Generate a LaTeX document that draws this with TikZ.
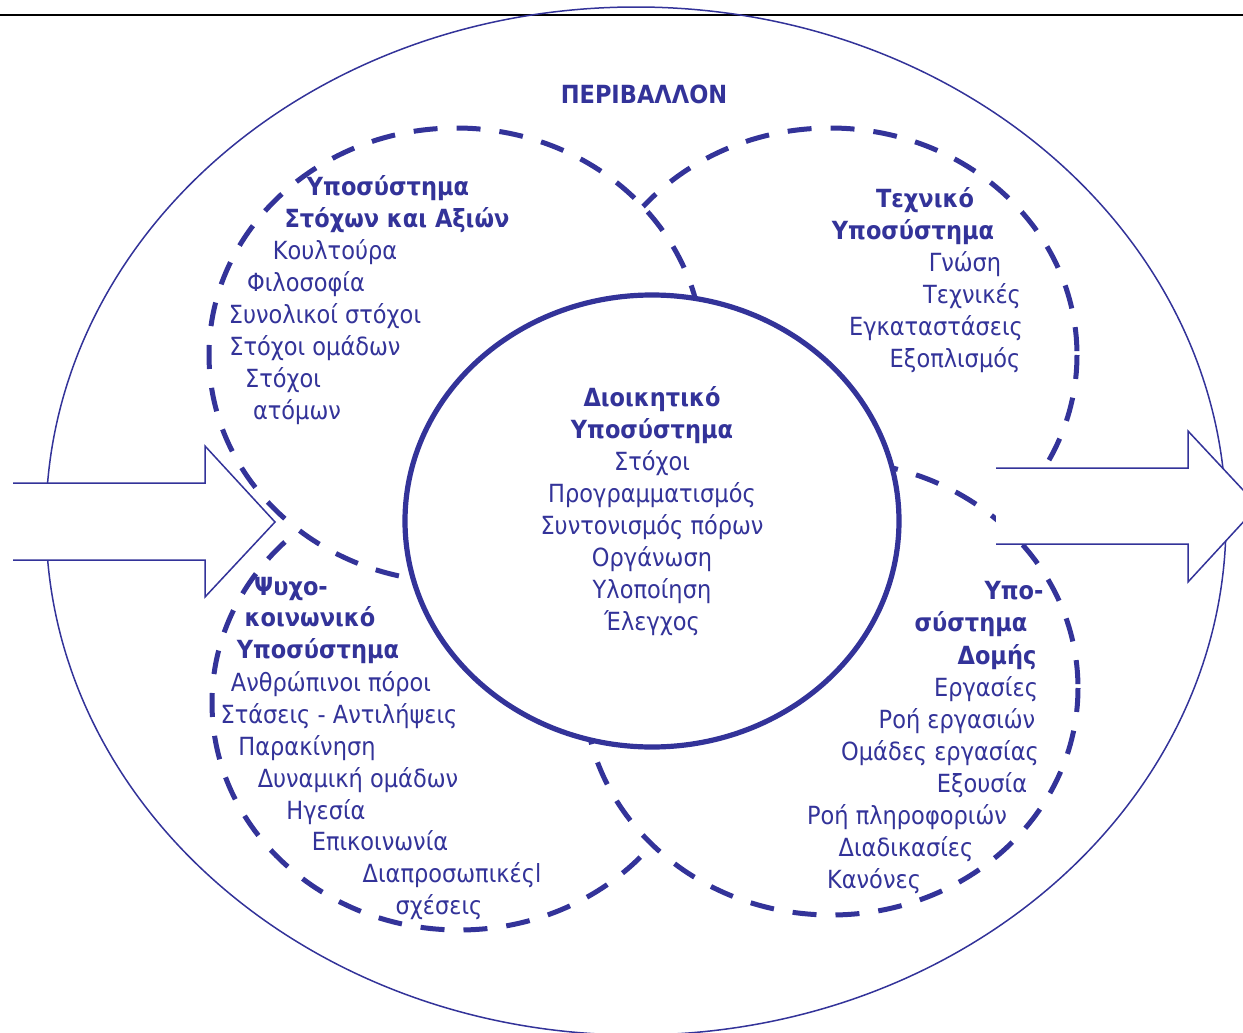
\documentclass[tikz,border=0pt]{standalone}
\usepackage{fontspec}
\setmainfont[FakeStretch=0.9]{DejaVu Sans}
\usetikzlibrary{calc}
\definecolor{navy}{HTML}{333399}
\tikzset{
  subsys/.style={draw=navy, fill=white, line width=2.5pt, dash pattern=on 12pt off 9.5pt},
  core/.style={draw=navy, fill=white, line width=2.6pt},
  flow/.style={draw=navy, line width=0.75pt},
  item/.style={text=navy, inner sep=0pt, anchor=base, font=\fontsize{12.5}{16}\selectfont},
  head/.style={item, font=\fontsize{12.5}{16}\selectfont\bfseries}
}

\begin{document}
\begin{tikzpicture}[x=0.5pt,y=-0.5pt]
% Frame of the page, one unit is one pixel of the scan
\useasboundingbox (0,0) rectangle (1243,1033);
\clip (0,0) rectangle (1243,1033);
% Centres of the five subsystems
\coordinate (tl) at (456,355);
\coordinate (tr) at (830,355);
\coordinate (bl) at (459,703);
\coordinate (br) at (831,688);
\coordinate (mid) at (652,521);
% Rule across the top
\draw[line width=1pt] (0,15) -- (1243,15);
% The environment
\draw[flow] (636,521) ellipse [x radius=590, y radius=514];
% Dashed subsystems, later ones hide the earlier ones
\draw[subsys] (tr) ellipse [x radius=247, y radius=227];
\draw[subsys] (bl) ellipse [x radius=247, y radius=227];
\draw[subsys] (tl) ellipse [x radius=247, y radius=227];
\draw[subsys] (br) ellipse [x radius=247, y radius=227];
% Management subsystem in the middle
\draw[core] (mid) ellipse [x radius=247, y radius=226];
% Input arrow on the left
\fill[white] (13,483) -- (205,483) -- (205,446) -- (275,522) -- (205,597) -- (205,560) -- (13,560) -- cycle;
\draw[flow] (13,483) -- (205,483) -- (205,446) -- (275,522) -- (205,597) -- (205,560) -- (13,560);
% Output arrow on the right
\fill[white] (996,468) -- (1188,468) -- (1188,431) -- (1258,506) -- (1188,582) -- (1188,544) -- (996,544) -- cycle;
\draw[flow] (996,468) -- (1188,468) -- (1188,431) -- (1258,506) -- (1188,582) -- (1188,544) -- (996,544);
% Title
\node[head] (env) at (644,103) {ΠΕΡΙΒΑΛΛΟΝ};
% Goals and values
\node[head] (tl1) at (388,195) {Υποσύστημα};
\node[head] (tl2) at (397,227) {Στόχων και Αξιών};
\node[item] (tl3) at (335,259) {Κουλτούρα};
\node[item] (tl4) at (306,291) {Φιλοσοφία};
\node[item] (tl5) at (325,323) {Συνολικοί στόχοι};
\node[item] (tl6) at (315,355) {Στόχοι ομάδων};
\node[item] (tl7) at (283,387) {Στόχοι};
\node[item] (tl8) at (297,419) {ατόμων};
% Technical
\node[head] (tr1) at (925,207) {Τεχνικό};
\node[head] (tr2) at (913,239) {Υποσύστημα};
\node[item] (tr3) at (965,271) {Γνώση};
\node[item] (tr4) at (972,303) {Τεχνικές};
\node[item] (tr5) at (936,335) {Εγκαταστάσεις};
\node[item] (tr6) at (955,367) {Εξοπλισμός};
% Management
\node[head] (m1) at (652,406) {Διοικητικό};
\node[head] (m2) at (652,438) {Υποσύστημα};
\node[item] (m3) at (652,470) {Στόχοι};
\node[item] (m4) at (652,502) {Προγραμματισμός};
\node[item] (m5) at (652,534) {Συντονισμός πόρων};
\node[item] (m6) at (652,566) {Οργάνωση};
\node[item] (m7) at (652,598) {Υλοποίηση};
\node[item] (m8) at (652,630) {Έλεγχος};
% Psycho-social
\node[head] (bl1) at (291,595) {Ψυχο-};
\node[head] (bl2) at (310,626) {κοινωνικό};
\node[head] (bl3) at (318,658) {Υποσύστημα};
\node[item] (bl4) at (331,691) {Ανθρώπινοι πόροι};
\node[item] (bl5) at (339,723) {Στάσεις - Αντιλήψεις};
\node[item] (bl6) at (307,755) {Παρακίνηση};
\node[item] (bl7) at (358,787) {Δυναμική ομάδων};
\node[item] (bl8) at (326,819) {Ηγεσία};
\node[item] (bl9) at (380,850) {Επικοινωνία};
\node[item] (bl10) at (452,882) {Διαπροσωπικέςl};
\node[item] (bl11) at (439,914) {σχέσεις};
% Structure
\node[head] (br1) at (1014,599) {Υπο-};
\node[head] (br2) at (971,631) {σύστημα};
\node[head] (br3) at (997,664) {Δομής};
\node[item] (br4) at (986,696) {Εργασίες};
\node[item] (br5) at (957,728) {Ροή εργασιών};
\node[item] (br6) at (940,760) {Ομάδες εργασίας};
\node[item] (br7) at (982,792) {Εξουσία};
\node[item] (br8) at (907,824) {Ροή πληροφοριών};
\node[item] (br9) at (906,856) {Διαδικασίες};
\node[item] (br10) at (874,888) {Κανόνες};
\end{tikzpicture}
\end{document}
